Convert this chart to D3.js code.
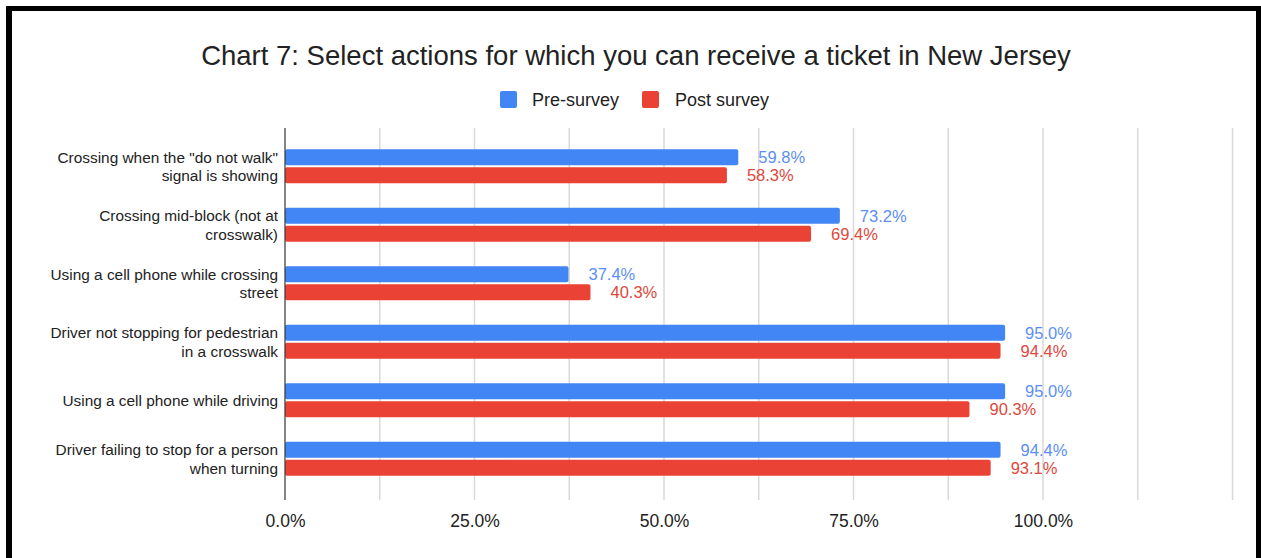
<!DOCTYPE html>
<html>
<head>
<meta charset="utf-8">
<script src="https://cdn.jsdelivr.net/npm/d3@7"></script>
<style>
  html, body { margin: 0; padding: 0; background: #fff; }
  svg { display: block; font-family: "Liberation Sans", Arial, sans-serif; }
</style>
</head>
<body>
<svg id="chart" width="1261" height="558"></svg>
<script>
// Survey results: share of respondents selecting each action
const categories = [
  ["Crossing when the \"do not walk\"", "signal is showing"],
  ["Crossing mid-block (not at", "crosswalk)"],
  ["Using a cell phone while crossing", "street"],
  ["Driver not stopping for pedestrian", "in a crosswalk"],
  ["Using a cell phone while driving"],
  ["Driver failing to stop for a person", "when turning"]
];
const preSurvey  = [59.8, 73.2, 37.4, 95.0, 95.0, 94.4];
const postSurvey = [58.3, 69.4, 40.3, 94.4, 90.3, 93.1];
const seriesNames = ["Pre-survey", "Post survey"];
const seriesColors = ["#4285f4", "#ea4335"];
const labelColors = ["#5b8ff2", "#e0483c"];
const tickValues = [0, 12.5, 25, 37.5, 50, 62.5, 75, 87.5, 100, 112.5, 125];
const tickLabels = [0, 25, 50, 75, 100];

const svg = d3.select("#chart");
const W = 1261, H = 558;

// Frame (left, top and right edges)
svg.append("rect").attr("x", 6).attr("y", 6).attr("width", 6).attr("height", H - 6).attr("fill", "#000");
svg.append("rect").attr("x", 6).attr("y", 6).attr("width", W - 6).attr("height", 5).attr("fill", "#000");
svg.append("rect").attr("x", 1256).attr("y", 6).attr("width", 5).attr("height", H - 6).attr("fill", "#000");

const plot = { left: 285, right: 1232.5, top: 128, bottom: 500 };

const x = d3.scaleLinear().domain([0, 125]).range([plot.left, plot.right]);
const y = d3.scaleBand().domain(d3.range(categories.length))
  .range([137, 488]).paddingInner(0.38).paddingOuter(0.19);

// Title
svg.append("text")
  .attr("x", 636).attr("y", 65)
  .attr("text-anchor", "middle")
  .attr("font-size", 27.5)
  .attr("fill", "#222")
  .text("Chart 7: Select actions for which you can receive a ticket in New Jersey");

// Legend
const legend = svg.append("g").attr("font-size", 18).attr("fill", "#222");
const legendItems = [{ x: 500, tx: 532 }, { x: 642, tx: 675 }];
seriesNames.forEach((name, i) => {
  legend.append("rect")
    .attr("x", legendItems[i].x).attr("y", 91)
    .attr("width", 17).attr("height", 17).attr("rx", 2)
    .attr("fill", seriesColors[i]);
  legend.append("text")
    .attr("x", legendItems[i].tx).attr("y", 106)
    .text(name);
});

// Gridlines
svg.append("g").selectAll("line")
  .data(tickValues.filter(v => v > 0))
  .join("line")
  .attr("x1", d => x(d)).attr("x2", d => x(d))
  .attr("y1", plot.top).attr("y2", plot.bottom)
  .attr("stroke", "#d9d9d9").attr("stroke-width", 1.5);

// Tick labels
const xAxis = d3.axisBottom(x)
  .tickValues(tickLabels)
  .tickSize(0)
  .tickFormat(d => d3.format(".1f")(d) + "%");
const axisG = svg.append("g")
  .attr("transform", `translate(0,${plot.bottom + 12})`)
  .call(xAxis);
axisG.select(".domain").remove();
axisG.selectAll("text")
  .attr("font-size", 17.5)
  .attr("font-family", "Liberation Sans, Arial, sans-serif")
  .attr("fill", "#222")
  .attr("dy", "0.71em");

// Bars with value labels
const barH = 16, gap = 2;
const groups = svg.append("g").selectAll("g")
  .data(categories.map((c, i) => ({ i, vals: [preSurvey[i], postSurvey[i]] })))
  .join("g");

groups.each(function (d) {
  const g = d3.select(this);
  const center = y(d.i) + y.bandwidth() / 2;
  d.vals.forEach((v, s) => {
    const top = s === 0 ? center - gap / 2 - barH : center + gap / 2;
    g.append("rect")
      .attr("x", x(0)).attr("y", top)
      .attr("width", x(v) - x(0)).attr("height", barH)
      .attr("rx", 2)
      .attr("fill", seriesColors[s]);
    g.append("text")
      .attr("x", x(v) + 20).attr("y", top + barH / 2)
      .attr("dy", "0.36em")
      .attr("font-size", 16.5)
      .attr("fill", labelColors[s])
      .text(v.toFixed(1) + "%");
  });
});

// Category labels
const catG = svg.append("g").attr("font-size", 15.4).attr("fill", "#222").attr("text-anchor", "end");
categories.forEach((lines, i) => {
  const center = y(i) + y.bandwidth() / 2;
  const lh = 18.5;
  const start = center - (lines.length - 1) * lh / 2;
  const t = catG.append("text").attr("x", 278);
  lines.forEach((ln, k) => {
    t.append("tspan").attr("x", 278).attr("y", start + k * lh).attr("dy", "0.36em").text(ln);
  });
});

// Vertical baseline at zero
svg.append("line")
  .attr("x1", x(0)).attr("x2", x(0))
  .attr("y1", plot.top).attr("y2", plot.bottom)
  .attr("stroke", "#333").attr("stroke-width", 1.2);
</script>
</body>
</html>
